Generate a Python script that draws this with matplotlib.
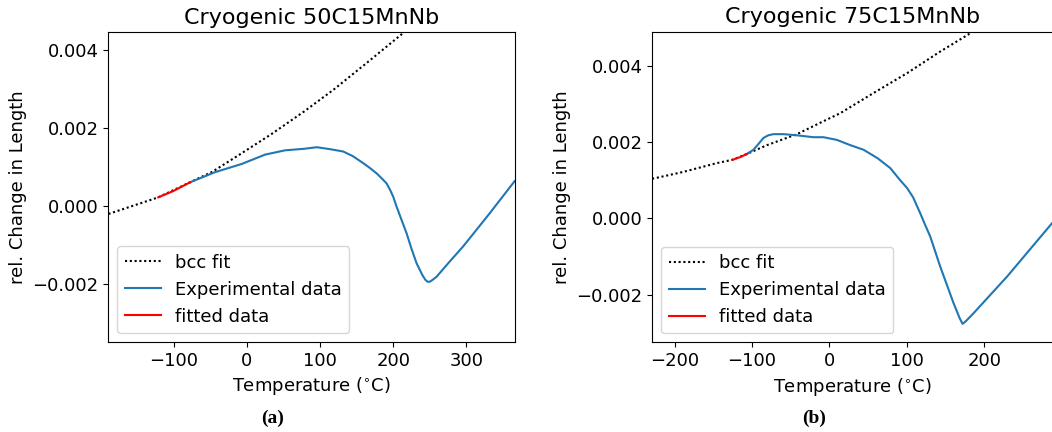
import matplotlib.pyplot as plt
from matplotlib.ticker import MultipleLocator

# values
# (a) Cryogenic 50C15MnNb
a_fit_T = [-189, -185.5, -120.9, -77.6, -48, -11.6, 34, 78.6, 118.2, 163.8, 213.8, 222]
a_fit_v = [-0.00021, -0.00019, 0.000215, 0.0006, 0.00086, 0.00129, 0.00184, 0.00242,
           0.00297, 0.00366, 0.00443, 0.00456]
a_exp_T = [-77.6, -43.4, -7, 24.9, 52.2, 78.6, 95.5, 113.7, 131.8, 145, 159.2, 168, 177.4,
           185, 191.1, 196, 200.1, 204.8, 211.6, 218.4, 225, 232.1, 240, 244, 247.1, 250,
           254, 259.4, 275, 295.8, 330, 366]
a_exp_v = [0.0006, 0.00086, 0.00107, 0.00131, 0.00142, 0.00146, 0.0015, 0.00145, 0.00139,
           0.00127, 0.00109, 0.00097, 0.00083, 0.00069, 0.00057, 0.0004, 0.00023, -0.00003,
           -0.00037, -0.00071, -0.0011, -0.00148, -0.00178, -0.0019, -0.00195, -0.00195,
           -0.0019, -0.00182, -0.00148, -0.00104, -0.00024, 0.00063]
a_red_T = [-120.9, -100, -77.6]
a_red_v = [0.000215, 0.00038, 0.0006]

# (b) Cryogenic 75C15MnNb
b_fit_T = [-229, -223.9, -188.6, -145.5, -124.8, -106.7, -80.9, -42.1, -7.8, 13.8, 56.8,
           100, 143, 181.8, 190]
b_fit_v = [0.00104, 0.00106, 0.00122, 0.00145, 0.00154, 0.00169, 0.00192, 0.00221,
           0.00255, 0.00276, 0.00329, 0.00381, 0.00438, 0.00486, 0.00497]
b_exp_T = [-106.7, -98.2, -91, -85.3, -79, -72.4, -59.4, -42.1, -20.7, -7.8, 9.5, 25.8, 44,
           62, 78.4, 91.3, 100, 108, 117.2, 123, 130.1, 143, 160.2, 168, 171.8, 176, 186,
           229.2, 288]
b_exp_v = [0.00169, 0.0018, 0.00197, 0.00211, 0.00218, 0.00221, 0.00221, 0.00218, 0.00213,
           0.00213, 0.00206, 0.00193, 0.0018, 0.00158, 0.00132, 0.001, 0.0008, 0.00055,
           0.00013, -0.00015, -0.00048, -0.00127, -0.00223, -0.00262, -0.00277, -0.0027,
           -0.00249, -0.00153, -0.00011]
b_red_T = [-124.8, -115, -106.7]
b_red_v = [0.00154, 0.00161, 0.00169]

panels = [
    {"title": "Cryogenic 50C15MnNb", "fit": (a_fit_T, a_fit_v), "exp": (a_exp_T, a_exp_v),
     "red": (a_red_T, a_red_v), "xlim": (-189, 366), "ylim": (-0.003495, 0.004454),
     "rect": [0.1031, 0.2083, 0.3861, 0.7176], "cap": "(a)", "capx": 0.259},
    {"title": "Cryogenic 75C15MnNb", "fit": (b_fit_T, b_fit_v), "exp": (b_exp_T, b_exp_v),
     "red": (b_red_T, b_red_v), "xlim": (-228.7, 288.6), "ylim": (-0.003255, 0.0049),
     "rect": [0.6201, 0.2076, 0.3809, 0.7190], "cap": "(b)", "capx": 0.774},
]

fig = plt.figure(figsize=(10.52, 4.32), dpi=100)

for p in panels:
    ax = fig.add_axes(p["rect"])
    ax.plot(*p["fit"], color="black", linestyle=(0, (1, 1.3)), lw=1.5, label="bcc fit")
    ax.plot(*p["exp"], color="#1f77b4", lw=1.5, label="Experimental data")
    ax.plot(*p["red"], color="red", lw=1.5, label="fitted data")
    ax.set_xlim(*p["xlim"])
    ax.set_ylim(*p["ylim"])
    ax.yaxis.set_major_locator(MultipleLocator(0.002))
    ax.xaxis.set_major_locator(MultipleLocator(100))
    ax.tick_params(labelsize=13)
    ax.set_title(p["title"], fontsize=16)
    ax.set_xlabel("Temperature ($^{\\circ}$C)", fontsize=13)
    ax.set_ylabel("rel. Change in Length", fontsize=13)
    ax.legend(loc="lower left", fontsize=13)
    fig.text(p["capx"], 0.032, p["cap"], ha="center", va="center",
             family="Liberation Serif", weight="bold", fontsize=14)

fig.savefig("out.png", dpi=100)
